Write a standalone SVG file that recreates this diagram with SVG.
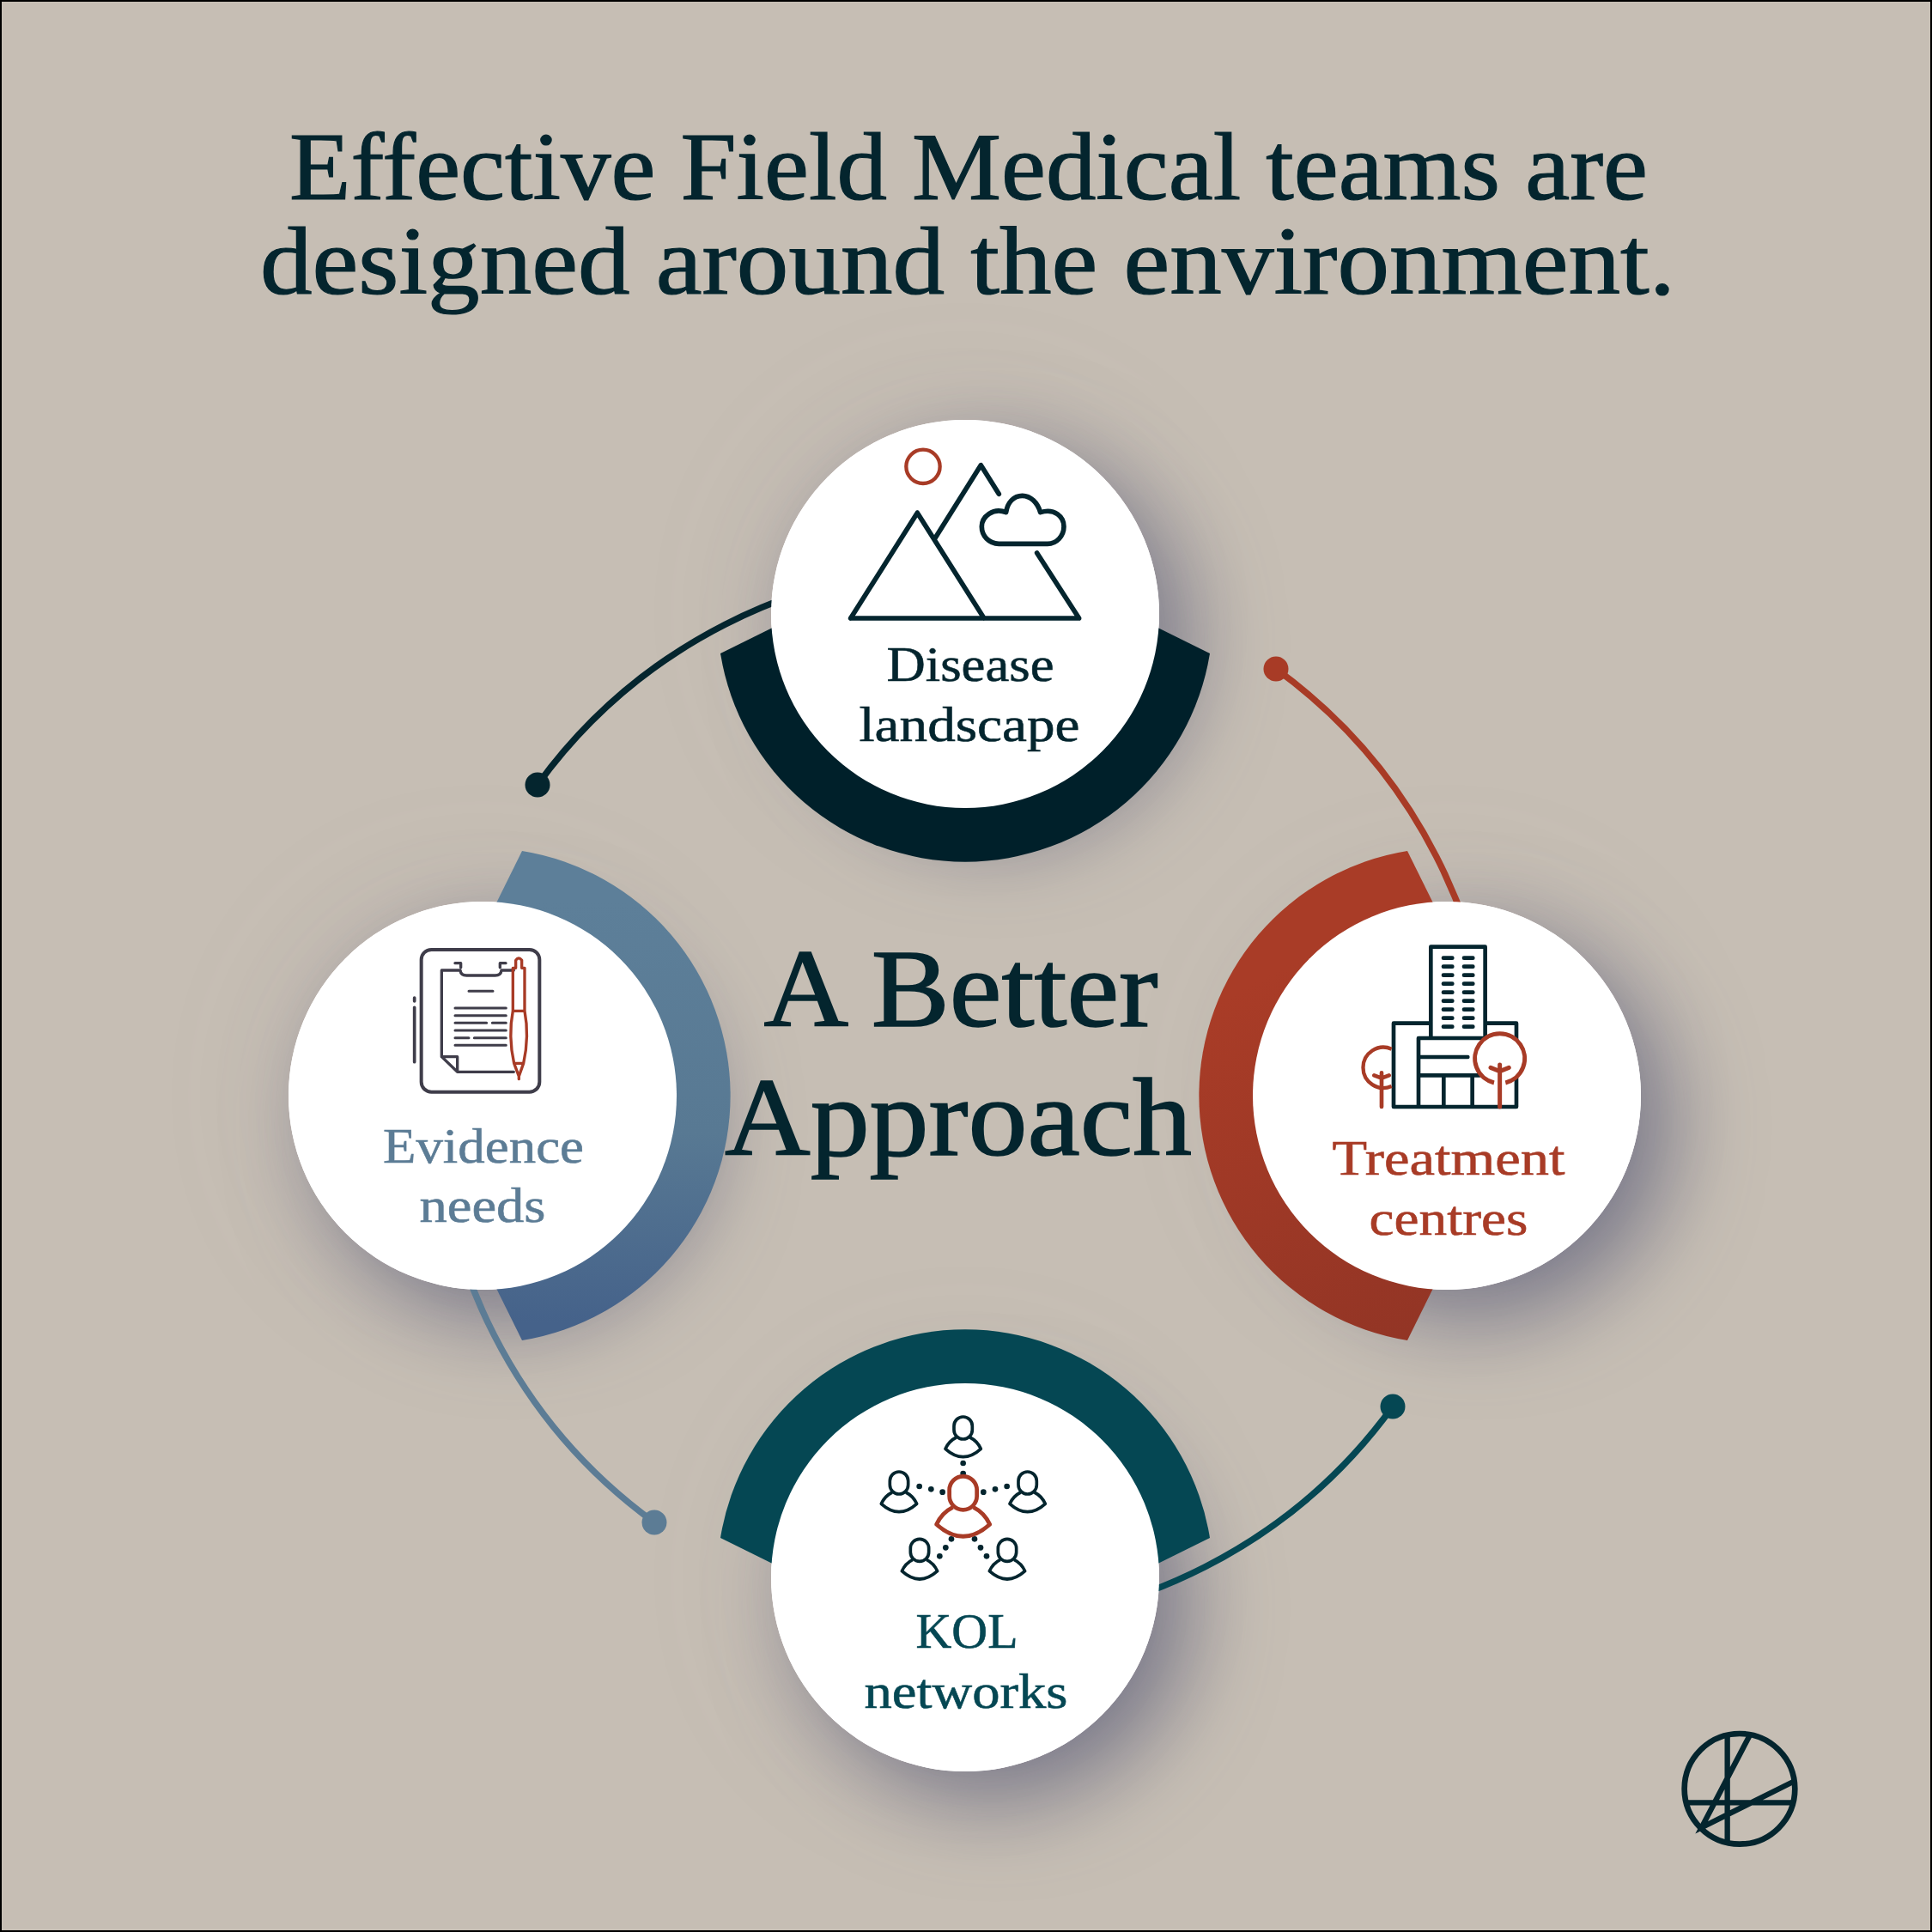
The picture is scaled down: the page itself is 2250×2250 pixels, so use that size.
<svg xmlns="http://www.w3.org/2000/svg" xmlns:xlink="http://www.w3.org/1999/xlink" width="2250" height="2250" viewBox="0 0 2250 2250">
<style>
text{font-family:"Liberation Serif","Times New Roman",serif;text-anchor:middle}
.title{font-size:112px;fill:#04252e;stroke:#04252e;stroke-width:1.2}
.center{font-size:130px;fill:#04252e;stroke:#04252e;stroke-width:1.6}
.label{font-size:58px;stroke-width:0.6}
.thin{fill:none;stroke-width:7.5;stroke-linecap:round}
.ln{fill:none;stroke:#04252e;stroke-linecap:round;stroke-linejoin:round}
.rd{fill:none;stroke:#a83b26;stroke-linecap:round;stroke-linejoin:round}
.clip{fill:none;stroke:#3f3d4a;stroke-linecap:round;stroke-linejoin:round}
.disc{fill:#fff}
</style>
<defs>
<linearGradient id="gRed" gradientUnits="userSpaceOnUse" x1="1450" y1="1150" x2="1660" y2="1540"><stop offset="0" stop-color="#a93c27"/><stop offset="1" stop-color="#933525"/></linearGradient>
<linearGradient id="gBlue" gradientUnits="userSpaceOnUse" x1="680" y1="1050" x2="680" y2="1540"><stop offset="0" stop-color="#5d7f99"/><stop offset="0.55" stop-color="#587993"/><stop offset="1" stop-color="#45628a"/></linearGradient>
<filter id="sh" x="-70%" y="-70%" width="260%" height="260%" color-interpolation-filters="sRGB">
<feGaussianBlur in="SourceAlpha" stdDeviation="75" result="b1"/>
<feFlood flood-color="#7d7a8c" flood-opacity="0.1"/>
<feComposite in2="b1" operator="in" result="halo"/>
<feGaussianBlur in="SourceAlpha" stdDeviation="50" result="b2"/>
<feOffset in="b2" dx="35" dy="35" result="o2"/>
<feFlood flood-color="#40456a" flood-opacity="0.55"/>
<feComposite in2="o2" operator="in" result="drop"/>
<feMerge><feMergeNode in="halo"/><feMergeNode in="drop"/><feMergeNode in="SourceGraphic"/></feMerge>
</filter>
<g id="person">
<path d="M-24,72 Q-50,85 -62,112 Q0,168 62,112 Q50,85 24,72" fill="#fff"/>
<rect x="-32" y="0" width="64" height="78" rx="32" fill="#fff"/>
</g>
</defs>
<rect x="1" y="1" width="2248" height="2248" fill="#c6beb4" stroke="#000" stroke-width="2"/>
<text class="title" x="1128" y="232" textLength="1582" lengthAdjust="spacingAndGlyphs">Effective Field Medical teams are</text>
<text class="title" x="1127" y="342" textLength="1648" lengthAdjust="spacingAndGlyphs">designed around the environment.</text>
<g id="shadows">
<circle class="disc" cx="1124" cy="715" r="226" filter="url(#sh)"/>
<circle class="disc" cx="1685" cy="1276" r="226" filter="url(#sh)"/>
<circle class="disc" cx="1124" cy="1837" r="226" filter="url(#sh)"/>
<circle class="disc" cx="562" cy="1276" r="226" filter="url(#sh)"/>
</g>
<g id="connectors">
<path class="thin" stroke="#04252e" d="M626,914 A616,616 0 0 1 1124,660"/>
<path class="thin" stroke="#a83b26" d="M1486,779 A616,616 0 0 1 1740,1276"/>
<path class="thin" stroke="#054753" d="M1622,1638 A616,616 0 0 1 1124,1892"/>
<path class="thin" stroke="#5c7c95" d="M762,1773 A616,616 0 0 1 508,1276"/>
<circle cx="626" cy="914" r="14.5" fill="#04252e"/>
<circle cx="1486" cy="779" r="14.5" fill="#a83b26"/>
<circle cx="1622" cy="1638" r="14.5" fill="#054753"/>
<circle cx="762" cy="1773" r="14.5" fill="#5c7c95"/>
</g>
<g id="node-top">
<path d="M839,761 A288.7,288.7 0 0 0 1409,761 L1124,620 Z" fill="#00202a"/>
<circle class="disc" cx="1124" cy="715" r="226"/>
</g>
<g id="node-right">
<path d="M1639,991 A288.7,288.7 0 0 0 1639,1561 L1780,1276 Z" fill="url(#gRed)"/>
<circle class="disc" cx="1685" cy="1276" r="226"/>
</g>
<g id="node-bottom">
<path d="M1409,1791 A288.7,288.7 0 0 0 839,1791 L1124,1932 Z" fill="#054753"/>
<circle class="disc" cx="1124" cy="1837" r="226"/>
</g>
<g id="node-left">
<path d="M608,1561 A288.7,288.7 0 0 0 608,991 L467,1276 Z" fill="url(#gBlue)"/>
<circle class="disc" cx="562" cy="1276" r="226"/>
</g>
<g id="icon-mountains" transform="translate(950,500) scale(0.3333)">
<circle class="rd" cx="375" cy="130" r="59" stroke-width="13"/>
<path class="ln" stroke-width="17" d="M122,660 H920 L773,432 M640,226 L577,125 L417,380 M355,292 L122,660 M355,292 L588,660"/>
<path class="ln" stroke-width="17" d="M640,400 H810 C842,400 867,372 867,340 C867,305 835,275 785,290 C775,255 750,232 722,232 C692,232 670,255 665,290 C620,272 580,305 580,340 C580,372 605,400 640,400 Z"/>
</g>
<g id="icon-building" transform="translate(1550,1070) scale(0.3333)">
<path class="ln" stroke-width="14" d="M349,417 V98 H539 V417 M349,365 H219 V657 H648 V365 H539 M306,657 V417 H530 M306,483 H478 M306,547 H520 M394,547 V657 M494,547 V657"/>
<path class="ln" stroke-width="14" d="M393,137h31M465,137h31M393,167h31M465,167h31M393,197h31M465,197h31M393,227h31M465,227h31M393,257h31M465,257h31M393,287h31M465,287h31M393,317h31M465,317h31M393,347h31M465,347h31M393,377h31M465,377h31"/>
<path class="rd" stroke-width="13" style="stroke-linecap:butt" d="M212,455 A71,71 0 1 0 212,585"/>
<path class="rd" stroke-width="14" d="M177,538 V657 M151,547 L177,557 L203,547"/>
<circle cx="590" cy="487" r="87" fill="#fff"/>
<path class="rd" stroke-width="15" style="stroke-linecap:butt" d="M570,573 A87,87 0 1 1 610,573"/>
<path class="rd" stroke-width="15" d="M590,510 V657 M558,520 L590,533 L622,520"/>
</g>
<g id="icon-clipboard" transform="translate(460,1090) scale(0.3333)">
<rect class="clip" x="92" y="48" width="413" height="497" rx="35" stroke-width="12"/>
<path class="clip" stroke-width="11" d="M68,250 V440 M68,216 V228"/>
<path class="clip" stroke-width="10" d="M415,120 H372 Q370,138 350,138 H250 Q230,138 228,120 H163 V422 L218,475 H415 M163,422 H218 V475 M210,95 H230 V110 M367,95 H387 M367,95 V110"/>
<path class="clip" stroke-width="9" d="M258,193H342M210,252H388M210,278H388M210,304H320M340,304H388M210,330H388M210,356H258M277,356H388M210,382H388"/>
<path class="rd" stroke-width="10" d="M422,112 V85 Q432,70 443,85 V112 H453 V262 Q470,350 449,445 L433,490 L416,445 Q395,350 412,262 V112 Z M412,262 H453 M416,445 H449 M433,490 V500"/>
</g>
<g id="icon-network" transform="translate(1000,1630) scale(0.3333)">
<g fill="#04252e">
<circle cx="365" cy="222" r="10"/><circle cx="365" cy="258" r="10"/>
<circle cx="212" cy="303" r="10"/><circle cx="253" cy="313" r="10"/><circle cx="293" cy="323" r="10"/>
<circle cx="518" cy="303" r="10"/><circle cx="477" cy="313" r="10"/><circle cx="436" cy="323" r="10"/>
<circle cx="283" cy="547" r="10"/><circle cx="304" cy="517" r="10"/><circle cx="324" cy="487" r="10"/>
<circle cx="447" cy="547" r="10"/><circle cx="426" cy="517" r="10"/><circle cx="405" cy="487" r="10"/>
</g>
<g stroke="#04252e" stroke-width="11" stroke-linejoin="round">
<use xlink:href="#person" href="#person" x="365" y="60"/>
<use xlink:href="#person" href="#person" x="141" y="252"/>
<use xlink:href="#person" href="#person" x="590" y="252"/>
<use xlink:href="#person" href="#person" x="213" y="487"/>
<use xlink:href="#person" href="#person" x="519" y="487"/>
</g>
<use xlink:href="#person" href="#person" transform="translate(365,268) scale(1.5)" stroke="#a83b26" stroke-width="9.5" stroke-linejoin="round"/>
</g>
<g id="labels">
<text class="label" fill="#04252e" stroke="#04252e" x="1130" y="793" textLength="195" lengthAdjust="spacingAndGlyphs">Disease</text>
<text class="label" fill="#04252e" stroke="#04252e" x="1129" y="863" textLength="257" lengthAdjust="spacingAndGlyphs">landscape</text>
<text class="label" fill="#5c7c95" stroke="#5c7c95" x="563" y="1354" textLength="234" lengthAdjust="spacingAndGlyphs">Evidence</text>
<text class="label" fill="#5c7c95" stroke="#5c7c95" x="562" y="1423" textLength="147" lengthAdjust="spacingAndGlyphs">needs</text>
<text class="label" fill="#a83b26" stroke="#a83b26" x="1687" y="1368" textLength="271" lengthAdjust="spacingAndGlyphs">Treatment</text>
<text class="label" fill="#a83b26" stroke="#a83b26" x="1687" y="1438" textLength="185" lengthAdjust="spacingAndGlyphs">centres</text>
<text class="label" fill="#054753" stroke="#054753" x="1126" y="1919" textLength="119" lengthAdjust="spacingAndGlyphs">KOL</text>
<text class="label" fill="#054753" stroke="#054753" x="1125" y="1989" textLength="237" lengthAdjust="spacingAndGlyphs">networks</text>
</g>
<g id="center-text">
<text class="center" x="1119" y="1195" textLength="459" lengthAdjust="spacingAndGlyphs">A Better</text>
<text class="center" x="1116" y="1345" textLength="544" lengthAdjust="spacingAndGlyphs">Approach</text>
</g>
<g id="logo" transform="translate(1940,2000) scale(0.3333)" fill="none" stroke="#04252e" stroke-width="19">
<circle cx="258" cy="250" r="193" stroke-width="20"/>
<path d="M215,65 V435 M70,298 H445 M292,65 L125,385 L445,225"/>
</g>
</svg>
